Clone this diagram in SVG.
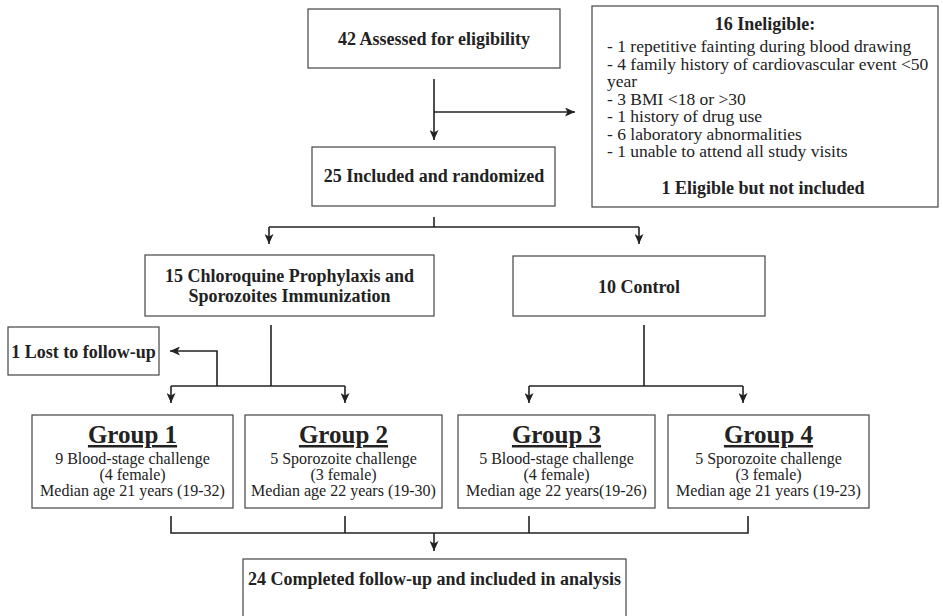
<svg xmlns="http://www.w3.org/2000/svg" width="943" height="616" viewBox="0 0 943 616">
<style>
  .box { fill: #fff; stroke: #444; stroke-width: 1.2; }
  .b { font-family: "Liberation Serif", "Times New Roman", serif; font-weight: bold; font-size: 18px; fill: #222; text-anchor: middle; }
  .r { font-family: "Liberation Serif", "Times New Roman", serif; font-size: 17.5px; fill: #222; }
  .s { font-family: "Liberation Serif", "Times New Roman", serif; font-size: 16px; fill: #222; text-anchor: middle; }
  .t { font-family: "Liberation Serif", "Times New Roman", serif; font-weight: bold; font-size: 25px; fill: #222; text-anchor: middle; text-decoration: underline; }
  .ln { fill: none; stroke: #222; stroke-width: 1.6; }
</style>
<defs>
  <marker id="ah" markerWidth="10" markerHeight="9" refX="10" refY="4.5" orient="auto" markerUnits="userSpaceOnUse">
    <path d="M0,0 L10,4.5 L0,9 L2.5,4.5 z" fill="#222"/>
  </marker>
</defs>
<rect width="943" height="616" fill="#fff"/>

<g id="assessed">
  <rect class="box" x="308" y="9" width="252" height="59"/>
  <text class="b" x="434" y="45">42 Assessed for eligibility</text>
</g>
<g id="ineligible">
  <rect class="box" x="592" y="6" width="346" height="201"/>
  <text class="b" x="765" y="30">16 Ineligible:</text>
  <text class="r" x="607" y="52">- 1 repetitive fainting during blood drawing</text>
  <text class="r" x="607" y="69.5">- 4 family history of cardiovascular event &lt;50</text>
  <text class="r" x="607" y="87">year</text>
  <text class="r" x="607" y="104.5">- 3 BMI &lt;18 or &gt;30</text>
  <text class="r" x="607" y="122">- 1 history of drug use</text>
  <text class="r" x="607" y="139.5">- 6 laboratory abnormalities</text>
  <text class="r" x="607" y="157">- 1 unable to attend all study visits</text>
  <text class="b" x="763" y="194">1 Eligible but not included</text>
</g>
<g id="randomized">
  <rect class="box" x="312" y="147" width="243" height="59"/>
  <text class="b" x="434" y="182">25 Included and randomized</text>
</g>
<g id="cps">
  <rect class="box" x="145" y="255" width="289" height="61"/>
  <text class="b" x="289.5" y="282">15 Chloroquine Prophylaxis and</text>
  <text class="b" x="289.5" y="302">Sporozoites Immunization</text>
</g>
<g id="control">
  <rect class="box" x="513" y="256" width="252" height="60"/>
  <text class="b" x="639" y="293">10 Control</text>
</g>
<g id="lost">
  <rect class="box" x="8" y="327" width="151" height="48"/>
  <text class="b" x="83.5" y="358">1 Lost to follow-up</text>
</g>
<g id="group1">
  <rect class="box" x="32" y="415" width="201" height="93"/>
  <text class="t" x="132.5" y="443">Group 1</text>
  <text class="s" x="132.5" y="464">9 Blood-stage challenge</text>
  <text class="s" x="132.5" y="480">(4 female)</text>
  <text class="s" x="132.5" y="496">Median age 21 years (19-32)</text>
</g>
<g id="group2">
  <rect class="box" x="245" y="415" width="197" height="93"/>
  <text class="t" x="343.5" y="443">Group 2</text>
  <text class="s" x="343.5" y="464">5 Sporozoite challenge</text>
  <text class="s" x="343.5" y="480">(3 female)</text>
  <text class="s" x="343.5" y="496">Median age 22 years (19-30)</text>
</g>
<g id="group3">
  <rect class="box" x="458" y="415" width="197" height="93"/>
  <text class="t" x="556.5" y="443">Group 3</text>
  <text class="s" x="556.5" y="464">5 Blood-stage challenge</text>
  <text class="s" x="556.5" y="480">(4 female)</text>
  <text class="s" x="556.5" y="496">Median age 22 years(19-26)</text>
</g>
<g id="group4">
  <rect class="box" x="668" y="415" width="201" height="93"/>
  <text class="t" x="768.5" y="443">Group 4</text>
  <text class="s" x="768.5" y="464">5 Sporozoite challenge</text>
  <text class="s" x="768.5" y="480">(3 female)</text>
  <text class="s" x="768.5" y="496">Median age 21 years (19-23)</text>
</g>
<g id="completed">
  <rect class="box" x="243" y="559" width="383" height="70"/>
  <text class="b" x="434.5" y="585">24 Completed follow-up and included in analysis</text>
</g>

<g id="connectors">
  <path class="ln" d="M434,79 V140" marker-end="url(#ah)"/>
  <path class="ln" d="M434,112 H575" marker-end="url(#ah)"/>
  <path class="ln" d="M434,217 V227"/>
  <path class="ln" d="M269,227 H639"/>
  <path class="ln" d="M269,227 V244" marker-end="url(#ah)"/>
  <path class="ln" d="M639,227 V244" marker-end="url(#ah)"/>
  <path class="ln" d="M271,325 V386"/>
  <path class="ln" d="M171,386 H345"/>
  <path class="ln" d="M171,386 V403" marker-end="url(#ah)"/>
  <path class="ln" d="M345,386 V403" marker-end="url(#ah)"/>
  <path class="ln" d="M217,386 V351 H170" marker-end="url(#ah)"/>
  <path class="ln" d="M644,325 V386"/>
  <path class="ln" d="M529,386 H743"/>
  <path class="ln" d="M529,386 V403" marker-end="url(#ah)"/>
  <path class="ln" d="M743,386 V403" marker-end="url(#ah)"/>
  <path class="ln" d="M171,516 V533 H748 V516"/>
  <path class="ln" d="M345,516 V533"/>
  <path class="ln" d="M529,516 V533"/>
  <path class="ln" d="M434,533 V551" marker-end="url(#ah)"/>
</g>
</svg>
